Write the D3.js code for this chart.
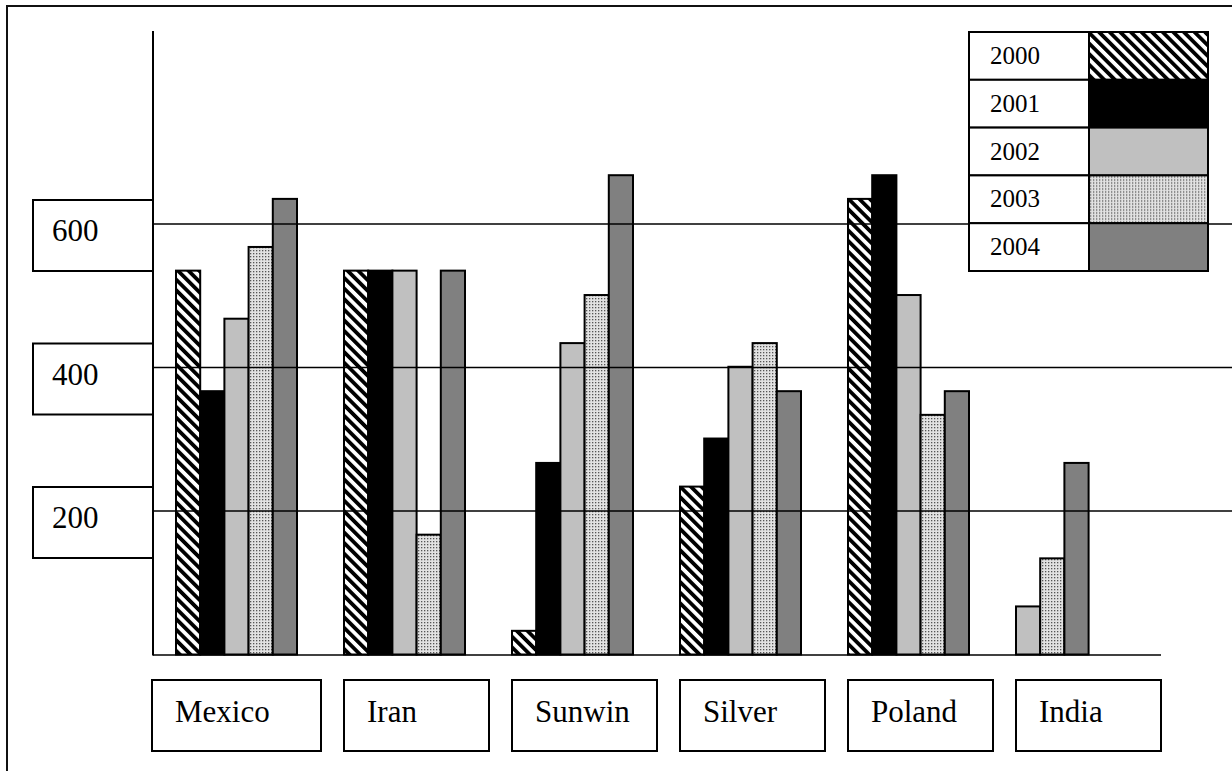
<!DOCTYPE html>
<html><head><meta charset="utf-8">
<script src="https://cdn.jsdelivr.net/npm/d3@7"></script>
<style>html,body{margin:0;padding:0;background:#fff;overflow:hidden}</style>
</head><body>
<svg id="c" width="1232" height="771"></svg>
<script>
const categories = ["Mexico", "Iran", "Sunwin", "Silver", "Poland", "India"];
const years = ["2000", "2001", "2002", "2003", "2004"];
const v2000 = [535, 535, 33, 234, 635, null];
const v2001 = [367, 535, 267, 301, 668, null];
const v2002 = [468, 535, 434, 401, 501, 67];
const v2003 = [568, 167, 501, 434, 334, 134];
const v2004 = [635, 535, 668, 367, 367, 267];
const yTicks = [200, 400, 600];

const series = [v2000, v2001, v2002, v2003, v2004];
const svg = d3.select("#c");
const font = "Liberation Serif, Times New Roman, DejaVu Serif, serif";

// patterns
const defs = svg.append("defs");
const ps = defs.append("pattern").attr("id", "p2000").attr("patternUnits", "userSpaceOnUse")
  .attr("width", 7.5).attr("height", 7.5).attr("patternTransform", "rotate(-45)");
ps.append("rect").attr("width", 7.5).attr("height", 7.5).attr("fill", "#fff");
ps.append("rect").attr("width", 3.8).attr("height", 7.5).attr("fill", "#000");
const pd = defs.append("pattern").attr("id", "p2003").attr("patternUnits", "userSpaceOnUse")
  .attr("width", 3).attr("height", 3);
pd.append("rect").attr("width", 3).attr("height", 3).attr("fill", "#e2e2e2");
pd.append("rect").attr("x", 1).attr("y", 1).attr("width", 1.3).attr("height", 1.3).attr("fill", "#555");

const fills = ["url(#p2000)", "#000", "#c0c0c0", "url(#p2003)", "#808080"];

// outer frame
svg.append("rect").attr("x", 7).attr("y", 6).attr("width", 1400).attr("height", 1000)
  .attr("fill", "none").attr("stroke", "#111").attr("stroke-width", 2);

const x0 = d3.scaleBand().domain(categories).range([176, 1137]).paddingInner(47 / 168).paddingOuter(0);
const x1 = d3.scaleBand().domain(d3.range(years.length)).range([0, x0.bandwidth()]).padding(0);
const y = d3.scaleLinear().domain([0, 600]).range([654.5, 224]);
const axisX = 153;

// bars
categories.forEach((cat, ci) => {
  const present = series.map((s, si) => ({ si, v: s[ci] })).filter(d => d.v != null);
  svg.append("g").selectAll("rect").data(present).join("rect")
    .attr("x", (d, k) => x0(cat) + x1(k))
    .attr("y", d => y(d.v))
    .attr("width", x1.bandwidth())
    .attr("height", d => y(0) - y(d.v))
    .attr("fill", d => fills[d.si])
    .attr("stroke", "#000").attr("stroke-width", 2);
});

// gridlines
svg.append("g").selectAll("line").data(yTicks).join("line")
  .attr("x1", axisX).attr("x2", 1240)
  .attr("y1", d => y(d)).attr("y2", d => y(d))
  .attr("stroke", "#000").attr("stroke-width", 1.5);

// y axis line and baseline
svg.append("line").attr("x1", axisX).attr("x2", axisX).attr("y1", 31).attr("y2", y(0) + 1)
  .attr("stroke", "#000").attr("stroke-width", 2);
svg.append("line").attr("x1", axisX).attr("x2", 1161).attr("y1", y(0) + 0.5).attr("y2", y(0) + 0.5)
  .attr("stroke", "#000").attr("stroke-width", 1.5);

// y label boxes
const yl = svg.append("g").selectAll("g").data(yTicks).join("g");
yl.append("rect").attr("x", 33).attr("y", d => y(d) - 24).attr("width", axisX - 33).attr("height", 71)
  .attr("fill", "#fff").attr("stroke", "#000").attr("stroke-width", 2);
yl.append("text").attr("x", 52).attr("y", d => y(d) + 17)
  .attr("font-family", font).attr("font-size", 31).text(d => d);

// category label boxes
const cl = svg.append("g").selectAll("g").data(categories).join("g");
cl.append("rect")
  .attr("x", (d, i) => i === 0 ? axisX - 1 : x0(d))
  .attr("y", 680)
  .attr("width", (d, i) => x0(d) + x0.bandwidth() + 24 - (i === 0 ? axisX - 1 : x0(d)))
  .attr("height", 71)
  .attr("fill", "#fff").attr("stroke", "#000").attr("stroke-width", 2);
cl.append("text")
  .attr("x", (d, i) => (i === 0 ? axisX - 1 : x0(d)) + 23)
  .attr("y", 722)
  .attr("font-family", font).attr("font-size", 31).text(d => d);

// legend
const lx = 969, ly = 32, lw1 = 120, lw2 = 119, lh = 47.8;
const lg = svg.append("g").selectAll("g").data(years).join("g")
  .attr("transform", (d, i) => `translate(${lx},${ly + i * lh})`);
lg.append("rect").attr("width", lw1).attr("height", lh).attr("fill", "#fff")
  .attr("stroke", "#000").attr("stroke-width", 2);
lg.append("rect").attr("x", lw1).attr("width", lw2).attr("height", lh).attr("fill", (d, i) => fills[i])
  .attr("stroke", "#000").attr("stroke-width", 2);
lg.append("text").attr("x", 21).attr("y", 32).attr("font-family", font).attr("font-size", 25).text(d => d);
</script>
</body></html>
